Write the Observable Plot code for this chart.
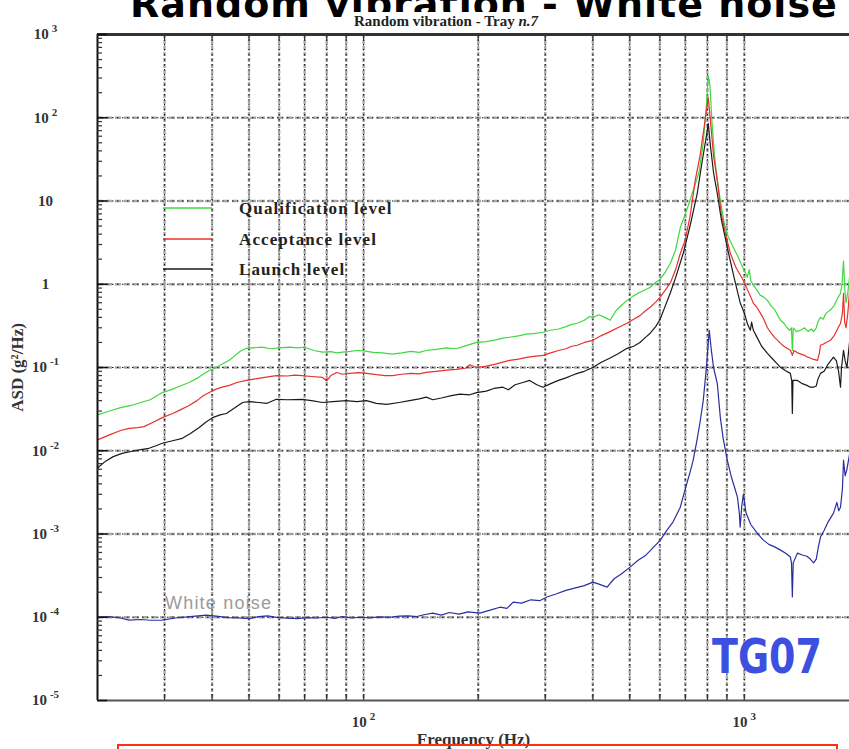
<!DOCTYPE html>
<html><head><meta charset="utf-8">
<script src="https://cdn.jsdelivr.net/npm/d3@7"></script>
<script src="https://cdn.jsdelivr.net/npm/@observablehq/plot@0.6"></script>
<style>
html,body{margin:0;padding:0;background:#fff;}
#wrap{position:relative;width:849px;height:749px;overflow:hidden;background:#fff;}
#wrap svg{position:absolute;left:0;top:0;}
</style></head><body><div id="wrap"></div>
<script>
// ---- Data (frequency Hz, ASD g^2/Hz) ----
const qualification = [
[20,0.027],[21.5,0.030],[23,0.033],[24.5,0.035],[26,0.038],[27.5,0.041],[29.6,0.050],[31.5,0.055],[33,0.060],[34.8,0.066],
[36.5,0.074],[38,0.084],[39.3,0.092],[41,0.100],[42.5,0.110],[44.4,0.122],[46,0.140],[47.5,0.158],[49.2,0.170],[51,0.172],
[54,0.176],[57,0.168],[60,0.172],[64,0.176],[67,0.172],[70,0.175],[74,0.160],[78,0.153],[82,0.155],[85,0.150],[88,0.153],
[92,0.156],[96,0.160],[100,0.158],[106,0.152],[112,0.150],[119,0.145],[126,0.150],[133,0.156],[140,0.152],[146,0.160],
[155,0.165],[165,0.172],[175,0.168],[185,0.182],[198,0.20],[210,0.205],[222,0.215],[232,0.225],[242,0.231],[255,0.240],
[268,0.252],[280,0.255],[296,0.265],[310,0.28],[325,0.29],[340,0.31],[352,0.33],[364,0.34],[380,0.37],[392,0.41],[400,0.40],
[415,0.43],[430,0.40],[444,0.37],[460,0.48],[476,0.56],[492,0.64],[510,0.72],[532,0.80],[550,0.86],[566,0.92],[585,1.05],
[601,1.15],[620,1.4],[640,1.8],[660,2.6],[679,4.8],[700,7.0],[720,10.2],[740,15],[760,22],[780,50],[795,140],[804,320],
[812,250],[822,90],[835,35],[849,18],[865,10.2],[885,5.5],[905,3.8],[936,2.77],[960,2.2],[990,1.6],[1018,1.21],[1030,1.5],
[1040,1.1],[1060,0.95],[1080,0.85],[1100,0.74],[1125,0.70],[1150,0.64],[1175,0.55],[1200,0.50],[1225,0.42],[1245,0.37],
[1270,0.34],[1295,0.30],[1315,0.28],[1330,0.30],[1337,0.16],[1345,0.30],[1370,0.27],[1403,0.28],[1440,0.30],[1470,0.27],
[1500,0.29],[1520,0.27],[1545,0.30],[1560,0.35],[1585,0.40],[1610,0.38],[1640,0.45],[1683,0.49],[1720,0.55],[1750,0.65],
[1789,0.78],[1805,1.0],[1822,1.9],[1835,0.9],[1850,0.6],[1870,0.8],[1889,1.2]
];
const acceptance = [
[20,0.0135],[21.5,0.0155],[23,0.0175],[24.2,0.0186],[25.5,0.019],[26.5,0.0195],[28,0.022],[29.6,0.025],[31.5,0.028],[33,0.031],
[34.8,0.035],[36.5,0.040],[38,0.046],[39.3,0.050],[41,0.055],[42.5,0.058],[44.4,0.061],[46.5,0.066],[49.2,0.070],[52,0.073],
[55,0.076],[59,0.080],[63,0.079],[66,0.081],[69,0.080],[73,0.078],[78,0.076],[80,0.069],[82,0.080],[85,0.087],[88,0.083],
[92,0.085],[97,0.087],[102,0.085],[108,0.082],[114,0.080],[119,0.080],[126,0.083],[133,0.085],[140,0.084],[146,0.0875],
[155,0.090],[165,0.093],[175,0.095],[185,0.098],[190,0.108],[198,0.100],[210,0.104],[222,0.110],[232,0.116],[242,0.122],
[255,0.126],[268,0.132],[280,0.136],[296,0.14],[310,0.15],[325,0.16],[340,0.168],[352,0.18],[364,0.185],[380,0.20],[400,0.212],
[420,0.24],[444,0.27],[465,0.30],[492,0.34],[512,0.38],[532,0.42],[550,0.48],[566,0.53],[585,0.61],[601,0.70],[620,0.85],
[640,1.05],[660,1.5],[680,2.4],[699,3.37],[720,6.5],[743,17.7],[765,35],[785,80],[804,175],[815,90],[830,35],[849,17.7],
[870,7],[895,3.8],[919,2.35],[950,1.6],[975,1.3],[994,1.11],[1020,0.85],[1040,0.70],[1056,0.59],[1075,0.54],[1102,0.45],
[1125,0.38],[1150,0.30],[1175,0.26],[1200,0.23],[1225,0.21],[1245,0.195],[1270,0.18],[1295,0.17],[1321,0.161],[1337,0.14],
[1350,0.16],[1380,0.15],[1410,0.145],[1440,0.14],[1465,0.133],[1490,0.13],[1520,0.125],[1557,0.122],[1575,0.15],[1585,0.185],
[1610,0.19],[1640,0.20],[1683,0.212],[1720,0.24],[1750,0.28],[1789,0.34],[1810,0.45],[1822,0.78],[1835,0.35],[1850,0.30],
[1870,0.45],[1889,0.8]
];
const launch = [
[20,0.0062],[21,0.0075],[22,0.0085],[23.2,0.0093],[24.5,0.0098],[26,0.0103],[27.3,0.0107],[28.5,0.0115],[29.6,0.0123],
[31.5,0.0132],[33.4,0.0141],[35,0.0160],[37,0.019],[38.5,0.022],[40.1,0.025],[42,0.027],[43.6,0.028],[45.5,0.032],[48.1,0.038],
[50,0.039],[53,0.038],[55.6,0.037],[59,0.0415],[63,0.041],[69,0.0415],[73,0.040],[78,0.038],[83,0.039],[90,0.040],[96,0.039],
[101.8,0.040],[108,0.037],[115,0.036],[124,0.038],[132,0.040],[140,0.042],[146,0.044],[152,0.041],[160,0.043],[170,0.046],
[179,0.048],[190,0.047],[198,0.050],[210,0.052],[220,0.056],[232,0.058],[240,0.054],[250,0.062],[262,0.066],[273,0.070],
[285,0.062],[296,0.058],[310,0.064],[325,0.070],[340,0.075],[352,0.080],[364,0.085],[380,0.090],[400,0.10],[420,0.115],
[444,0.13],[465,0.145],[492,0.17],[512,0.18],[532,0.20],[550,0.23],[566,0.258],[585,0.31],[601,0.38],[620,0.55],[640,0.8],
[660,1.2],[691,2.35],[720,5.0],[752,12.3],[775,30],[795,60],[804,85],[815,45],[830,22],[849,12.3],[870,6],[902,2.77],
[940,1.2],[975,0.6],[1000,0.45],[1020,0.33],[1037,0.28],[1045,0.35],[1056,0.28],[1080,0.23],[1110,0.18],[1150,0.148],
[1180,0.13],[1210,0.115],[1245,0.1005],[1280,0.092],[1321,0.085],[1332,0.07],[1337,0.028],[1342,0.07],[1379,0.070],
[1420,0.064],[1460,0.061],[1490,0.058],[1520,0.058],[1545,0.06],[1560,0.072],[1585,0.085],[1620,0.090],[1660,0.11],
[1715,0.133],[1745,0.12],[1767,0.092],[1789,0.058],[1800,0.10],[1822,0.161],[1840,0.12],[1860,0.10],[1889,0.2]
];
const whiteNoise = [
[20,0.0001],[21.5,0.000102],[23,0.000098],[24.2,0.0000925],[26,0.000094],[27.5,0.000092],[29.6,0.0000925],[32,0.000098],
[35,0.000102],[38.6,0.000106],[41,0.000103],[44,0.000099],[47,0.0000985],[50,0.000096],[53,0.000102],[56,0.000104],
[59,0.0000995],[63,0.0000975],[67,0.0000965],[71,0.000099],[75,0.000098],[80,0.0001],[84,0.000097],[88,0.000102],
[93,0.000098],[98,0.0001],[104,0.0000985],[110,0.000101],[117,0.0001],[124,0.000103],[131,0.000104],[138,0.000102],
[145,0.000108],[152,0.000112],[160,0.000106],[168,0.000114],[178,0.000109],[188,0.000116],[202,0.000112],[215,0.000122],
[228,0.000132],[238,0.000128],[247,0.000152],[260,0.000148],[275,0.000162],[290,0.000158],[303,0.000175],[320,0.00019],
[340,0.00021],[360,0.000225],[380,0.00024],[400,0.000264],[415,0.00025],[436,0.00023],[455,0.00029],[475,0.00033],
[501,0.0004],[525,0.00048],[550,0.00055],[575,0.00068],[601,0.00084],[625,0.0011],[650,0.0014],[679,0.0021],[700,0.0035],
[720,0.0055],[734,0.0077],[750,0.013],[765,0.022],[780,0.040],[795,0.10],[809,0.28],[818,0.17],[830,0.10],[849,0.0646],
[865,0.025],[880,0.014],[902,0.0077],[925,0.0048],[945,0.0035],[959,0.00277],[970,0.0018],[975,0.00121],[985,0.0022],
[994,0.003],[1010,0.0018],[1040,0.0013],[1082,0.00102],[1120,0.00085],[1160,0.00075],[1200,0.0007],[1245,0.00064],
[1290,0.00058],[1321,0.00053],[1330,0.00045],[1337,0.000175],[1344,0.00045],[1379,0.00059],[1420,0.00056],[1460,0.00054],
[1490,0.00050],[1520,0.00045],[1545,0.00050],[1565,0.0007],[1585,0.00092],[1620,0.0011],[1660,0.0014],[1715,0.00178],
[1750,0.0024],[1770,0.0019],[1789,0.0021],[1810,0.0035],[1822,0.0077],[1840,0.0050],[1860,0.006],[1889,0.009]
];

const seriesNames = ["Qualification level", "Acceptance level", "Launch level", "White noise"];
const seriesColors = ["#3fd83f", "#e8302c", "#1a1a1a", "#2b2f9e"];
const legendNames = ["Qualification level", "Acceptance level", "Launch level"];

const yMajor = [1e-5, 1e-4, 1e-3, 1e-2, 1e-1, 1, 10, 100, 1000];
const yTickLabels = ["10^-5", "10^-4", "10^-3", "10^-2", "10^-1", "1", "10", "10^2", "10^3"];
const xGrid = [30, 40, 50, 60, 70, 80, 90, 100, 200, 300, 400, 500, 600, 700, 800, 900, 1000];
const xTicks = [100, 1000];
const xTickLabels = ["10^2", "10^3"];
const yGrid = [1e-4, 1e-3, 1e-2, 1e-1, 1, 10, 100];
const yMinor = [];
for (let e = -5; e < 3; e++) for (let m = 2; m <= 9; m++) yMinor.push(m * Math.pow(10, e));

const xDomain = [20, 1889];
const yDomain = [1e-5, 1e3];

const rows = [];
[qualification, acceptance, launch, whiteNoise].forEach((s, i) =>
  s.forEach(([f, v]) => rows.push({series: seriesNames[i], f, v})));

const yLab = new Map(yMajor.map((d, i) => [d, yTickLabels[i]]));
const xLab = new Map(xTicks.map((d, i) => [d, xTickLabels[i]]));

const chart = Plot.plot({
  width: 849, height: 749,
  marginLeft: 97, marginRight: 0, marginTop: 34, marginBottom: 49,
  x: {type: "log", domain: xDomain, label: null},
  y: {type: "log", domain: yDomain, label: null},
  color: {domain: seriesNames, range: seriesColors},
  style: {fontFamily: "'Liberation Serif', serif", fontWeight: "bold", fontSize: "15px", color: "#222", background: "transparent"},
  marks: [
    Plot.ruleX(xGrid, {stroke: "#a8a8a8", strokeWidth: 2.4, strokeDasharray: "4,2"}),
    Plot.ruleX(xGrid, {stroke: "#111", strokeWidth: 1.1, strokeDasharray: "1.5,3.5"}),
    Plot.ruleY(yGrid, {stroke: "#a8a8a8", strokeWidth: 2.4, strokeDasharray: "6,3"}),
    Plot.ruleY(yGrid, {stroke: "#111", strokeWidth: 1.1, strokeDasharray: "1.5,3.5"}),
    Plot.line(rows, {x: "f", y: "v", z: "series", stroke: "series", strokeWidth: 1.2}),
    Plot.ruleX([xDomain[0]], {stroke: "#111", strokeWidth: 2}),
    Plot.ruleY([yDomain[1]], {stroke: "#333", strokeWidth: 3}),
    Plot.ruleY([yDomain[0]], {stroke: "#555", strokeWidth: 2}),
    Plot.axisY(yMajor, {tickSize: 10, dx: 10, fill: "none", strokeWidth: 1.6, stroke: "#111"}),
    Plot.axisY(yMinor, {tickSize: 5, dx: 5, fill: "none", strokeWidth: 1.2, stroke: "#333"}),
    Plot.axisY(yMajor, {tickSize: 0, tickPadding: 52, textAnchor: "middle", tickFormat: d => yLab.get(d),
      fill: "#333", label: "ASD (g\u00B2/Hz)", labelAnchor: "center", labelOffset: 87, labelArrow: false, fontSize: 15}),
    Plot.axisX(xGrid, {tickSize: 6, dy: -6, fill: "none", stroke: "#333", strokeWidth: 1.2}),
    Plot.axisX(xGrid, {anchor: "top", tickSize: 6, dy: 6, fill: "none", stroke: "#333", strokeWidth: 1.2}),
    Plot.axisX(xTicks, {tickSize: 0, tickPadding: 16, tickFormat: d => xLab.get(d), fill: "#333",
      label: "Frequency (Hz)", labelAnchor: "center", labelOffset: 44, labelArrow: false, fontSize: 15})
  ]
});

// Render "10^n" tick labels with a raised exponent, and enlarge axis titles.
d3.select(chart).selectAll("text").each(function () {
  const t = this.textContent;
  const sel = d3.select(this);
  if (t.includes("^")) {
    const [base, exp] = t.split("^");
    sel.text(null);
    sel.append("tspan").text(base);
    sel.append("tspan").attr("dx", 3).attr("dy", -7).attr("font-size", 11).text(exp);
  } else if (t === "ASD (g\u00B2/Hz)") {
    sel.attr("font-size", 17);
  } else if (t === "Frequency (Hz)") {
    sel.attr("font-size", 17);
  }
});

const wrap = document.getElementById("wrap");
wrap.appendChild(chart);

// ---- Overlay annotations (titles, legend, labels) ----
const ov = d3.select(wrap).append("svg")
  .attr("width", 849).attr("height", 749)
  .style("pointer-events", "none");

ov.append("text").attr("x", 130).attr("y", 17)
  .attr("font-family", "'DejaVu Sans', sans-serif").attr("font-weight", "bold").attr("font-size", 38)
  .attr("letter-spacing", 1).attr("fill", "#000").text("Random vibration - White noise");

ov.append("rect").attr("x", 352).attr("y", 12).attr("width", 188).attr("height", 18).attr("fill", "#fff");
const sub = ov.append("text").attr("x", 446).attr("y", 26).attr("text-anchor", "middle")
  .attr("font-family", "'Liberation Serif', serif").attr("font-weight", "bold").attr("font-size", 15)
  .attr("fill", "#222");
sub.append("tspan").text("Random vibration - Tray ");
sub.append("tspan").attr("font-style", "italic").text("n.7");

const legY = [208, 239, 269];
legendNames.forEach((name, i) => {
  ov.append("line").attr("x1", 163).attr("x2", 212).attr("y1", legY[i]).attr("y2", legY[i])
    .attr("stroke", seriesColors[i]).attr("stroke-width", 1.3);
  ov.append("text").attr("x", 239).attr("y", legY[i]).attr("dy", "0.35em")
    .attr("font-family", "'Liberation Serif', serif").attr("font-weight", "bold").attr("font-size", 17)
    .attr("letter-spacing", 1.1).attr("fill", "#222").text(name);
});

ov.append("text").attr("x", 165).attr("y", 603).attr("dy", "0.35em")
  .attr("font-family", "'Liberation Sans', sans-serif").attr("font-size", 18).attr("letter-spacing", 1.2)
  .attr("fill", "#9b9b9b").text(seriesNames[3]);

ov.append("text").attr("transform", "translate(712,673) scale(1,1.26)")
  .attr("font-family", "'DejaVu Sans', sans-serif").attr("font-weight", "bold").attr("font-size", 38)
  .attr("fill", "#3d4fe0").text("TG07");

ov.append("rect").attr("x", 118).attr("y", 745).attr("width", 719).attr("height", 30)
  .attr("fill", "none").attr("stroke", "#ff3010").attr("stroke-width", 2);
</script></body></html>
